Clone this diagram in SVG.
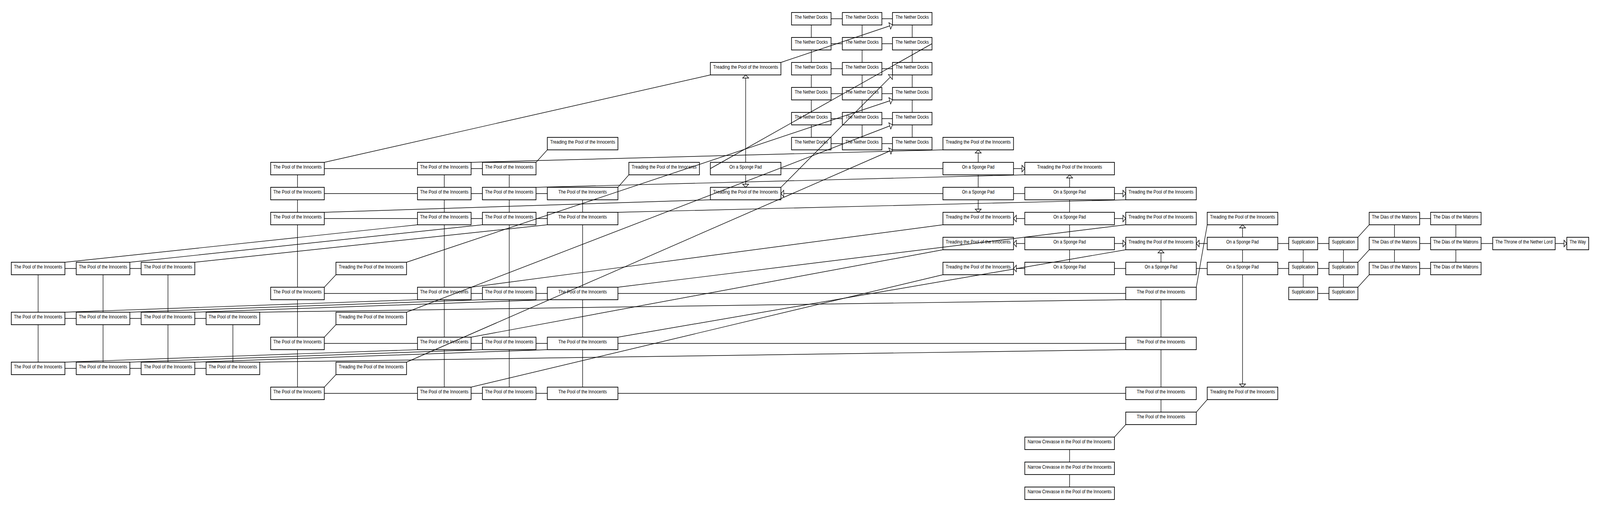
<svg xmlns="http://www.w3.org/2000/svg" width="4534" height="1312" viewBox="0 0 4534 1312" preserveAspectRatio="none" style="width:100vw;height:100vh;display:block">
<defs>
<style>
.node rect{fill:#fff;stroke:#000;stroke-width:1.8}
.node text{font-family:"Liberation Sans",Arial,sans-serif;font-size:13px;text-anchor:middle;fill:#000}
#edges path{fill:none;stroke:#000;stroke-width:1.45}
#edges path.a{marker-end:url(#arr)}
</style>
<marker id="arr" viewBox="0 0 10 20" markerWidth="10" markerHeight="20" refX="9" refY="10" orient="auto" markerUnits="userSpaceOnUse"><path d="M1,1.5 L9,10 L1,18.5 Z" fill="#fff" stroke="#000" stroke-width="1.4"/></marker>
</defs>
<rect width="4534" height="1312" fill="#fff"/>
<g id="nodes">
<g id="n-r0-c11" class="node"><rect x="2243" y="32" width="112" height="32"/><text x="2299" y="48.5" textLength="94" lengthAdjust="spacingAndGlyphs">The Nether Docks</text></g>
<g id="n-r0-c12" class="node"><rect x="2387" y="32" width="112" height="32"/><text x="2443" y="48.5" textLength="94" lengthAdjust="spacingAndGlyphs">The Nether Docks</text></g>
<g id="n-r0-c13" class="node"><rect x="2529" y="32" width="112" height="32"/><text x="2585" y="48.5" textLength="94" lengthAdjust="spacingAndGlyphs">The Nether Docks</text></g>
<g id="n-r1-c11" class="node"><rect x="2243" y="96" width="112" height="32"/><text x="2299" y="112.5" textLength="94" lengthAdjust="spacingAndGlyphs">The Nether Docks</text></g>
<g id="n-r1-c12" class="node"><rect x="2387" y="96" width="112" height="32"/><text x="2443" y="112.5" textLength="94" lengthAdjust="spacingAndGlyphs">The Nether Docks</text></g>
<g id="n-r1-c13" class="node"><rect x="2529" y="96" width="112" height="32"/><text x="2585" y="112.5" textLength="94" lengthAdjust="spacingAndGlyphs">The Nether Docks</text></g>
<g id="n-r2-c10" class="node"><rect x="2013" y="160" width="200" height="32"/><text x="2113" y="176.5" textLength="184" lengthAdjust="spacingAndGlyphs">Treading the Pool of the Innocents</text></g>
<g id="n-r2-c11" class="node"><rect x="2243" y="160" width="112" height="32"/><text x="2299" y="176.5" textLength="94" lengthAdjust="spacingAndGlyphs">The Nether Docks</text></g>
<g id="n-r2-c12" class="node"><rect x="2387" y="160" width="112" height="32"/><text x="2443" y="176.5" textLength="94" lengthAdjust="spacingAndGlyphs">The Nether Docks</text></g>
<g id="n-r2-c13" class="node"><rect x="2529" y="160" width="112" height="32"/><text x="2585" y="176.5" textLength="94" lengthAdjust="spacingAndGlyphs">The Nether Docks</text></g>
<g id="n-r3-c11" class="node"><rect x="2243" y="224" width="112" height="32"/><text x="2299" y="240.5" textLength="94" lengthAdjust="spacingAndGlyphs">The Nether Docks</text></g>
<g id="n-r3-c12" class="node"><rect x="2387" y="224" width="112" height="32"/><text x="2443" y="240.5" textLength="94" lengthAdjust="spacingAndGlyphs">The Nether Docks</text></g>
<g id="n-r3-c13" class="node"><rect x="2529" y="224" width="112" height="32"/><text x="2585" y="240.5" textLength="94" lengthAdjust="spacingAndGlyphs">The Nether Docks</text></g>
<g id="n-r4-c11" class="node"><rect x="2243" y="288" width="112" height="32"/><text x="2299" y="304.5" textLength="94" lengthAdjust="spacingAndGlyphs">The Nether Docks</text></g>
<g id="n-r4-c12" class="node"><rect x="2387" y="288" width="112" height="32"/><text x="2443" y="304.5" textLength="94" lengthAdjust="spacingAndGlyphs">The Nether Docks</text></g>
<g id="n-r4-c13" class="node"><rect x="2529" y="288" width="112" height="32"/><text x="2585" y="304.5" textLength="94" lengthAdjust="spacingAndGlyphs">The Nether Docks</text></g>
<g id="n-r5-c8" class="node"><rect x="1551" y="352" width="200" height="32"/><text x="1651" y="368.5" textLength="184" lengthAdjust="spacingAndGlyphs">Treading the Pool of the Innocents</text></g>
<g id="n-r5-c11" class="node"><rect x="2243" y="352" width="112" height="32"/><text x="2299" y="368.5" textLength="94" lengthAdjust="spacingAndGlyphs">The Nether Docks</text></g>
<g id="n-r5-c12" class="node"><rect x="2387" y="352" width="112" height="32"/><text x="2443" y="368.5" textLength="94" lengthAdjust="spacingAndGlyphs">The Nether Docks</text></g>
<g id="n-r5-c13" class="node"><rect x="2529" y="352" width="112" height="32"/><text x="2585" y="368.5" textLength="94" lengthAdjust="spacingAndGlyphs">The Nether Docks</text></g>
<g id="n-r5-c14" class="node"><rect x="2672" y="352" width="200" height="32"/><text x="2772" y="368.5" textLength="184" lengthAdjust="spacingAndGlyphs">Treading the Pool of the Innocents</text></g>
<g id="n-r6-c4" class="node"><rect x="767" y="416" width="152" height="32"/><text x="843" y="432.5" textLength="137" lengthAdjust="spacingAndGlyphs">The Pool of the Innocents</text></g>
<g id="n-r6-c6" class="node"><rect x="1183" y="416" width="152" height="32"/><text x="1259" y="432.5" textLength="137" lengthAdjust="spacingAndGlyphs">The Pool of the Innocents</text></g>
<g id="n-r6-c7" class="node"><rect x="1367" y="416" width="152" height="32"/><text x="1443" y="432.5" textLength="137" lengthAdjust="spacingAndGlyphs">The Pool of the Innocents</text></g>
<g id="n-r6-c9" class="node"><rect x="1782" y="416" width="200" height="32"/><text x="1882" y="432.5" textLength="184" lengthAdjust="spacingAndGlyphs">Treading the Pool of the Innocents</text></g>
<g id="n-r6-c10" class="node"><rect x="2013" y="416" width="200" height="32"/><text x="2113" y="432.5" textLength="92" lengthAdjust="spacingAndGlyphs">On a Sponge Pad</text></g>
<g id="n-r6-c14" class="node"><rect x="2672" y="416" width="200" height="32"/><text x="2772" y="432.5" textLength="92" lengthAdjust="spacingAndGlyphs">On a Sponge Pad</text></g>
<g id="n-r6-c15" class="node"><rect x="2904" y="416" width="254" height="32"/><text x="3031" y="432.5" textLength="184" lengthAdjust="spacingAndGlyphs">Treading the Pool of the Innocents</text></g>
<g id="n-r7-c4" class="node"><rect x="767" y="480" width="152" height="32"/><text x="843" y="496.5" textLength="137" lengthAdjust="spacingAndGlyphs">The Pool of the Innocents</text></g>
<g id="n-r7-c6" class="node"><rect x="1183" y="480" width="152" height="32"/><text x="1259" y="496.5" textLength="137" lengthAdjust="spacingAndGlyphs">The Pool of the Innocents</text></g>
<g id="n-r7-c7" class="node"><rect x="1367" y="480" width="152" height="32"/><text x="1443" y="496.5" textLength="137" lengthAdjust="spacingAndGlyphs">The Pool of the Innocents</text></g>
<g id="n-r7-c8" class="node"><rect x="1551" y="480" width="200" height="32"/><text x="1651" y="496.5" textLength="137" lengthAdjust="spacingAndGlyphs">The Pool of the Innocents</text></g>
<g id="n-r7-c10" class="node"><rect x="2013" y="480" width="200" height="32"/><text x="2113" y="496.5" textLength="184" lengthAdjust="spacingAndGlyphs">Treading the Pool of the Innocents</text></g>
<g id="n-r7-c14" class="node"><rect x="2672" y="480" width="200" height="32"/><text x="2772" y="496.5" textLength="92" lengthAdjust="spacingAndGlyphs">On a Sponge Pad</text></g>
<g id="n-r7-c15" class="node"><rect x="2904" y="480" width="254" height="32"/><text x="3031" y="496.5" textLength="92" lengthAdjust="spacingAndGlyphs">On a Sponge Pad</text></g>
<g id="n-r7-c16" class="node"><rect x="3190" y="480" width="200" height="32"/><text x="3290" y="496.5" textLength="184" lengthAdjust="spacingAndGlyphs">Treading the Pool of the Innocents</text></g>
<g id="n-r8-c4" class="node"><rect x="767" y="544" width="152" height="32"/><text x="843" y="560.5" textLength="137" lengthAdjust="spacingAndGlyphs">The Pool of the Innocents</text></g>
<g id="n-r8-c6" class="node"><rect x="1183" y="544" width="152" height="32"/><text x="1259" y="560.5" textLength="137" lengthAdjust="spacingAndGlyphs">The Pool of the Innocents</text></g>
<g id="n-r8-c7" class="node"><rect x="1367" y="544" width="152" height="32"/><text x="1443" y="560.5" textLength="137" lengthAdjust="spacingAndGlyphs">The Pool of the Innocents</text></g>
<g id="n-r8-c8" class="node"><rect x="1551" y="544" width="200" height="32"/><text x="1651" y="560.5" textLength="137" lengthAdjust="spacingAndGlyphs">The Pool of the Innocents</text></g>
<g id="n-r8-c14" class="node"><rect x="2672" y="544" width="200" height="32"/><text x="2772" y="560.5" textLength="184" lengthAdjust="spacingAndGlyphs">Treading the Pool of the Innocents</text></g>
<g id="n-r8-c15" class="node"><rect x="2904" y="544" width="254" height="32"/><text x="3031" y="560.5" textLength="92" lengthAdjust="spacingAndGlyphs">On a Sponge Pad</text></g>
<g id="n-r8-c16" class="node"><rect x="3190" y="544" width="200" height="32"/><text x="3290" y="560.5" textLength="184" lengthAdjust="spacingAndGlyphs">Treading the Pool of the Innocents</text></g>
<g id="n-r8-c17" class="node"><rect x="3421" y="544" width="200" height="32"/><text x="3521" y="560.5" textLength="184" lengthAdjust="spacingAndGlyphs">Treading the Pool of the Innocents</text></g>
<g id="n-r8-c20" class="node"><rect x="3880" y="544" width="143" height="32"/><text x="3951.5" y="560.5" textLength="128" lengthAdjust="spacingAndGlyphs">The Dias of the Matrons</text></g>
<g id="n-r8-c21" class="node"><rect x="4054" y="544" width="143" height="32"/><text x="4125.5" y="560.5" textLength="128" lengthAdjust="spacingAndGlyphs">The Dias of the Matrons</text></g>
<g id="n-r9-c14" class="node"><rect x="2672" y="608" width="200" height="32"/><text x="2772" y="624.5" textLength="184" lengthAdjust="spacingAndGlyphs">Treading the Pool of the Innocents</text></g>
<g id="n-r9-c15" class="node"><rect x="2904" y="608" width="254" height="32"/><text x="3031" y="624.5" textLength="92" lengthAdjust="spacingAndGlyphs">On a Sponge Pad</text></g>
<g id="n-r9-c16" class="node"><rect x="3190" y="608" width="200" height="32"/><text x="3290" y="624.5" textLength="184" lengthAdjust="spacingAndGlyphs">Treading the Pool of the Innocents</text></g>
<g id="n-r9-c17" class="node"><rect x="3421" y="608" width="200" height="32"/><text x="3521" y="624.5" textLength="92" lengthAdjust="spacingAndGlyphs">On a Sponge Pad</text></g>
<g id="n-r9-c18" class="node"><rect x="3652" y="608" width="82" height="32"/><text x="3693" y="624.5" textLength="65" lengthAdjust="spacingAndGlyphs">Supplication</text></g>
<g id="n-r9-c19" class="node"><rect x="3766" y="608" width="82" height="32"/><text x="3807" y="624.5" textLength="65" lengthAdjust="spacingAndGlyphs">Supplication</text></g>
<g id="n-r9-c20" class="node"><rect x="3880" y="608" width="143" height="32"/><text x="3951.5" y="624.5" textLength="128" lengthAdjust="spacingAndGlyphs">The Dias of the Matrons</text></g>
<g id="n-r9-c21" class="node"><rect x="4054" y="608" width="143" height="32"/><text x="4125.5" y="624.5" textLength="128" lengthAdjust="spacingAndGlyphs">The Dias of the Matrons</text></g>
<g id="n-r9-c22" class="node"><rect x="4230" y="608" width="177" height="32"/><text x="4318.5" y="624.5" textLength="162" lengthAdjust="spacingAndGlyphs">The Throne of the Nether Lord</text></g>
<g id="n-r9-c23" class="node"><rect x="4440" y="608" width="62" height="32"/><text x="4471" y="624.5" textLength="46" lengthAdjust="spacingAndGlyphs">The Way</text></g>
<g id="n-r10-c0" class="node"><rect x="32" y="672" width="152" height="32"/><text x="108" y="688.5" textLength="137" lengthAdjust="spacingAndGlyphs">The Pool of the Innocents</text></g>
<g id="n-r10-c1" class="node"><rect x="216" y="672" width="152" height="32"/><text x="292" y="688.5" textLength="137" lengthAdjust="spacingAndGlyphs">The Pool of the Innocents</text></g>
<g id="n-r10-c2" class="node"><rect x="400" y="672" width="152" height="32"/><text x="476" y="688.5" textLength="137" lengthAdjust="spacingAndGlyphs">The Pool of the Innocents</text></g>
<g id="n-r10-c5" class="node"><rect x="952" y="672" width="200" height="32"/><text x="1052" y="688.5" textLength="184" lengthAdjust="spacingAndGlyphs">Treading the Pool of the Innocents</text></g>
<g id="n-r10-c14" class="node"><rect x="2672" y="672" width="200" height="32"/><text x="2772" y="688.5" textLength="184" lengthAdjust="spacingAndGlyphs">Treading the Pool of the Innocents</text></g>
<g id="n-r10-c15" class="node"><rect x="2904" y="672" width="254" height="32"/><text x="3031" y="688.5" textLength="92" lengthAdjust="spacingAndGlyphs">On a Sponge Pad</text></g>
<g id="n-r10-c16" class="node"><rect x="3190" y="672" width="200" height="32"/><text x="3290" y="688.5" textLength="92" lengthAdjust="spacingAndGlyphs">On a Sponge Pad</text></g>
<g id="n-r10-c17" class="node"><rect x="3421" y="672" width="200" height="32"/><text x="3521" y="688.5" textLength="92" lengthAdjust="spacingAndGlyphs">On a Sponge Pad</text></g>
<g id="n-r10-c18" class="node"><rect x="3652" y="672" width="82" height="32"/><text x="3693" y="688.5" textLength="65" lengthAdjust="spacingAndGlyphs">Supplication</text></g>
<g id="n-r10-c19" class="node"><rect x="3766" y="672" width="82" height="32"/><text x="3807" y="688.5" textLength="65" lengthAdjust="spacingAndGlyphs">Supplication</text></g>
<g id="n-r10-c20" class="node"><rect x="3880" y="672" width="143" height="32"/><text x="3951.5" y="688.5" textLength="128" lengthAdjust="spacingAndGlyphs">The Dias of the Matrons</text></g>
<g id="n-r10-c21" class="node"><rect x="4054" y="672" width="143" height="32"/><text x="4125.5" y="688.5" textLength="128" lengthAdjust="spacingAndGlyphs">The Dias of the Matrons</text></g>
<g id="n-r11-c4" class="node"><rect x="767" y="736" width="152" height="32"/><text x="843" y="752.5" textLength="137" lengthAdjust="spacingAndGlyphs">The Pool of the Innocents</text></g>
<g id="n-r11-c6" class="node"><rect x="1183" y="736" width="152" height="32"/><text x="1259" y="752.5" textLength="137" lengthAdjust="spacingAndGlyphs">The Pool of the Innocents</text></g>
<g id="n-r11-c7" class="node"><rect x="1367" y="736" width="152" height="32"/><text x="1443" y="752.5" textLength="137" lengthAdjust="spacingAndGlyphs">The Pool of the Innocents</text></g>
<g id="n-r11-c8" class="node"><rect x="1551" y="736" width="200" height="32"/><text x="1651" y="752.5" textLength="137" lengthAdjust="spacingAndGlyphs">The Pool of the Innocents</text></g>
<g id="n-r11-c16" class="node"><rect x="3190" y="736" width="200" height="32"/><text x="3290" y="752.5" textLength="137" lengthAdjust="spacingAndGlyphs">The Pool of the Innocents</text></g>
<g id="n-r11-c18" class="node"><rect x="3652" y="736" width="82" height="32"/><text x="3693" y="752.5" textLength="65" lengthAdjust="spacingAndGlyphs">Supplication</text></g>
<g id="n-r11-c19" class="node"><rect x="3766" y="736" width="82" height="32"/><text x="3807" y="752.5" textLength="65" lengthAdjust="spacingAndGlyphs">Supplication</text></g>
<g id="n-r12-c0" class="node"><rect x="32" y="800" width="152" height="32"/><text x="108" y="816.5" textLength="137" lengthAdjust="spacingAndGlyphs">The Pool of the Innocents</text></g>
<g id="n-r12-c1" class="node"><rect x="216" y="800" width="152" height="32"/><text x="292" y="816.5" textLength="137" lengthAdjust="spacingAndGlyphs">The Pool of the Innocents</text></g>
<g id="n-r12-c2" class="node"><rect x="400" y="800" width="152" height="32"/><text x="476" y="816.5" textLength="137" lengthAdjust="spacingAndGlyphs">The Pool of the Innocents</text></g>
<g id="n-r12-c3" class="node"><rect x="584" y="800" width="152" height="32"/><text x="660" y="816.5" textLength="137" lengthAdjust="spacingAndGlyphs">The Pool of the Innocents</text></g>
<g id="n-r12-c5" class="node"><rect x="952" y="800" width="200" height="32"/><text x="1052" y="816.5" textLength="184" lengthAdjust="spacingAndGlyphs">Treading the Pool of the Innocents</text></g>
<g id="n-r13-c4" class="node"><rect x="767" y="864" width="152" height="32"/><text x="843" y="880.5" textLength="137" lengthAdjust="spacingAndGlyphs">The Pool of the Innocents</text></g>
<g id="n-r13-c6" class="node"><rect x="1183" y="864" width="152" height="32"/><text x="1259" y="880.5" textLength="137" lengthAdjust="spacingAndGlyphs">The Pool of the Innocents</text></g>
<g id="n-r13-c7" class="node"><rect x="1367" y="864" width="152" height="32"/><text x="1443" y="880.5" textLength="137" lengthAdjust="spacingAndGlyphs">The Pool of the Innocents</text></g>
<g id="n-r13-c8" class="node"><rect x="1551" y="864" width="200" height="32"/><text x="1651" y="880.5" textLength="137" lengthAdjust="spacingAndGlyphs">The Pool of the Innocents</text></g>
<g id="n-r13-c16" class="node"><rect x="3190" y="864" width="200" height="32"/><text x="3290" y="880.5" textLength="137" lengthAdjust="spacingAndGlyphs">The Pool of the Innocents</text></g>
<g id="n-r14-c0" class="node"><rect x="32" y="928" width="152" height="32"/><text x="108" y="944.5" textLength="137" lengthAdjust="spacingAndGlyphs">The Pool of the Innocents</text></g>
<g id="n-r14-c1" class="node"><rect x="216" y="928" width="152" height="32"/><text x="292" y="944.5" textLength="137" lengthAdjust="spacingAndGlyphs">The Pool of the Innocents</text></g>
<g id="n-r14-c2" class="node"><rect x="400" y="928" width="152" height="32"/><text x="476" y="944.5" textLength="137" lengthAdjust="spacingAndGlyphs">The Pool of the Innocents</text></g>
<g id="n-r14-c3" class="node"><rect x="584" y="928" width="152" height="32"/><text x="660" y="944.5" textLength="137" lengthAdjust="spacingAndGlyphs">The Pool of the Innocents</text></g>
<g id="n-r14-c5" class="node"><rect x="952" y="928" width="200" height="32"/><text x="1052" y="944.5" textLength="184" lengthAdjust="spacingAndGlyphs">Treading the Pool of the Innocents</text></g>
<g id="n-r15-c4" class="node"><rect x="767" y="992" width="152" height="32"/><text x="843" y="1008.5" textLength="137" lengthAdjust="spacingAndGlyphs">The Pool of the Innocents</text></g>
<g id="n-r15-c6" class="node"><rect x="1183" y="992" width="152" height="32"/><text x="1259" y="1008.5" textLength="137" lengthAdjust="spacingAndGlyphs">The Pool of the Innocents</text></g>
<g id="n-r15-c7" class="node"><rect x="1367" y="992" width="152" height="32"/><text x="1443" y="1008.5" textLength="137" lengthAdjust="spacingAndGlyphs">The Pool of the Innocents</text></g>
<g id="n-r15-c8" class="node"><rect x="1551" y="992" width="200" height="32"/><text x="1651" y="1008.5" textLength="137" lengthAdjust="spacingAndGlyphs">The Pool of the Innocents</text></g>
<g id="n-r15-c16" class="node"><rect x="3190" y="992" width="200" height="32"/><text x="3290" y="1008.5" textLength="137" lengthAdjust="spacingAndGlyphs">The Pool of the Innocents</text></g>
<g id="n-r15-c17" class="node"><rect x="3421" y="992" width="200" height="32"/><text x="3521" y="1008.5" textLength="184" lengthAdjust="spacingAndGlyphs">Treading the Pool of the Innocents</text></g>
<g id="n-r16-c16" class="node"><rect x="3190" y="1056" width="200" height="32"/><text x="3290" y="1072.5" textLength="137" lengthAdjust="spacingAndGlyphs">The Pool of the Innocents</text></g>
<g id="n-r17-c15" class="node"><rect x="2904" y="1120" width="254" height="32"/><text x="3031" y="1136.5" textLength="238" lengthAdjust="spacingAndGlyphs">Narrow Crevasse in the Pool of the Innocents</text></g>
<g id="n-r18-c15" class="node"><rect x="2904" y="1184" width="254" height="32"/><text x="3031" y="1200.5" textLength="238" lengthAdjust="spacingAndGlyphs">Narrow Crevasse in the Pool of the Innocents</text></g>
<g id="n-r19-c15" class="node"><rect x="2904" y="1248" width="254" height="32"/><text x="3031" y="1264.5" textLength="238" lengthAdjust="spacingAndGlyphs">Narrow Crevasse in the Pool of the Innocents</text></g>
</g>
<g id="edges">
<path d="M2355,48 L2387,48 M2499,48 L2529,48 M2355,112 L2387,112 M2499,112 L2529,112 M2355,176 L2387,176 M2499,176 L2529,176 M2355,240 L2387,240 M2499,240 L2529,240 M2355,304 L2387,304 M2499,304 L2529,304 M2355,368 L2387,368 M2499,368 L2529,368"/>
<path d="M2299,64 L2299,96 M2299,128 L2299,160 M2299,192 L2299,224 M2299,256 L2299,288 M2299,320 L2299,352 M2443,64 L2443,96 M2443,128 L2443,160 M2443,192 L2443,224 M2443,256 L2443,288 M2443,320 L2443,352 M2585,64 L2585,96 M2585,128 L2585,160 M2585,192 L2585,224 M2585,256 L2585,288 M2585,320 L2585,352"/>
<path class="a" d="M2213,160 L2529,64"/>
<path d="M2641,112 L2013,432"/>
<path class="a" d="M2213,480 L2529,192"/>
<path class="a" d="M1152,672 L2529,256"/>
<path class="a" d="M1152,800 L2529,320"/>
<path class="a" d="M1152,928 L2529,384"/>
<path d="M919,416 L2013,192"/>
<path d="M919,432 L1183,432 M1335,432 L1367,432"/>
<path d="M1335,416 L2672,384"/>
<path d="M1519,416 L1551,384"/>
<path d="M919,496 L1183,496 M1335,496 L1367,496 M1519,496 L1551,496"/>
<path d="M919,560 L1183,560 M1335,560 L1367,560 M1519,560 L1551,560"/>
<path d="M843,448 L843,480 M843,512 L843,544 M843,576 L843,736 M843,768 L843,864 M843,896 L843,992"/>
<path d="M1259,448 L1259,480 M1259,512 L1259,544 M1259,576 L1259,736 M1259,768 L1259,864 M1259,896 L1259,992"/>
<path d="M1443,448 L1443,480 M1443,512 L1443,544 M1443,576 L1443,736 M1443,768 L1443,864 M1443,896 L1443,992"/>
<path d="M1651,512 L1651,544 M1651,576 L1651,736 M1651,768 L1651,864 M1651,896 L1651,992"/>
<path d="M1519,480 L2904,448"/>
<path d="M1751,480 L1782,448"/>
<path d="M919,544 L2013,512"/>
<path d="M1751,544 L3190,512"/>
<path d="M184,688 L216,688 M368,688 L400,688"/>
<path d="M184,816 L216,816 M368,816 L400,816 M552,816 L584,816"/>
<path d="M184,944 L216,944 M368,944 L400,944 M552,944 L584,944"/>
<path d="M108,704 L108,800 M108,832 L108,928 M292,704 L292,800 M292,832 L292,928 M476,704 L476,800 M476,832 L476,928 M660,832 L660,928"/>
<path d="M184,672 L1183,576"/>
<path d="M368,672 L1367,576"/>
<path d="M552,672 L1551,576"/>
<path d="M184,800 L1183,768"/>
<path d="M368,800 L1367,768"/>
<path d="M552,800 L1551,768"/>
<path d="M736,800 L3190,768"/>
<path d="M184,928 L1183,896"/>
<path d="M368,928 L1367,896"/>
<path d="M552,928 L1551,896"/>
<path d="M736,928 L3190,896"/>
<path d="M952,704 L919,736 M952,832 L919,864 M952,960 L919,992"/>
<path d="M919,752 L1183,752 M1335,752 L1367,752 M1519,752 L1551,752 M1751,752 L3190,752"/>
<path d="M919,880 L1183,880 M1335,880 L1367,880 M1519,880 L1551,880 M1751,880 L3190,880"/>
<path d="M919,1008 L1183,1008 M1335,1008 L1367,1008 M1519,1008 L1551,1008 M1751,1008 L3190,1008"/>
<path d="M1335,736 L2672,576"/>
<path d="M1751,736 L3190,576"/>
<path d="M1335,864 L2672,640"/>
<path d="M1751,864 L3190,640"/>
<path d="M1335,992 L2672,704"/>
<path d="M3290,768 L3290,864 M3290,896 L3290,992 M3290,1024 L3290,1056"/>
<path d="M3390,736 L3421,576"/>
<path d="M3390,1056 L3421,1024"/>
<path d="M3190,1088 L3158,1120"/>
<path d="M3031,1152 L3031,1184 M3031,1216 L3031,1248"/>
<path class="a" d="M2113,416 L2113,192"/>
<path class="a" d="M2113,448 L2113,480"/>
<path d="M2213,432 L2672,432"/>
<path class="a" d="M2672,496 L2213,496"/>
<path class="a" d="M2772,416 L2772,384"/>
<path class="a" d="M2872,432 L2904,432"/>
<path d="M2772,448 L2772,480"/>
<path d="M2872,496 L2904,496"/>
<path class="a" d="M2772,512 L2772,544"/>
<path class="a" d="M3031,480 L3031,448"/>
<path class="a" d="M3158,496 L3190,496"/>
<path d="M3031,512 L3031,544 M3031,576 L3031,608 M3031,640 L3031,672"/>
<path class="a" d="M2904,560 L2872,560"/>
<path class="a" d="M3158,560 L3190,560"/>
<path class="a" d="M2904,624 L2872,624"/>
<path class="a" d="M3158,624 L3190,624"/>
<path class="a" d="M2904,688 L2872,688"/>
<path d="M3158,688 L3190,688"/>
<path class="a" d="M3290,672 L3290,640"/>
<path d="M3390,688 L3421,688"/>
<path class="a" d="M3521,608 L3521,576"/>
<path class="a" d="M3421,624 L3390,624"/>
<path d="M3621,624 L3652,624"/>
<path d="M3521,640 L3521,672"/>
<path d="M3621,688 L3652,688"/>
<path class="a" d="M3521,704 L3521,992"/>
<path d="M3734,624 L3766,624 M3734,688 L3766,688 M3734,752 L3766,752"/>
<path d="M3693,640 L3693,672 M3693,704 L3693,736 M3807,640 L3807,672 M3807,704 L3807,736"/>
<path d="M3848,608 L3880,576 M3848,672 L3880,640 M3848,736 L3880,704"/>
<path d="M4023,560 L4054,560 M4023,624 L4054,624 M4023,688 L4054,688"/>
<path d="M3951.5,576 L3951.5,608 M3951.5,640 L3951.5,672 M4125.5,576 L4125.5,608 M4125.5,640 L4125.5,672"/>
<path d="M4197,624 L4230,624"/>
<path class="a" d="M4407,624 L4440,624"/>
</g>
</svg>
